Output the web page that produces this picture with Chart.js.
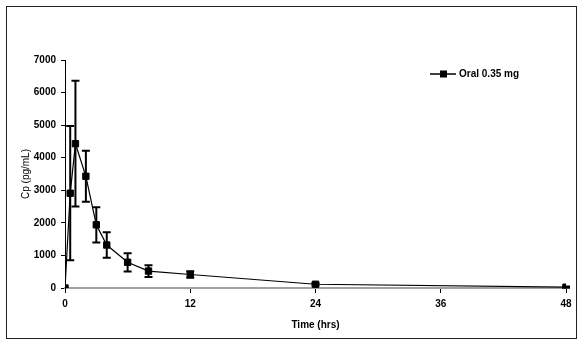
<!DOCTYPE html>
<html>
<head>
<meta charset="utf-8">
<script src="https://cdn.jsdelivr.net/npm/chart.js@4.4.1/dist/chart.umd.min.js"></script>
<style>
  html, body { margin: 0; padding: 0; background: #fff; }
  #wrap { width: 581px; height: 342px; position: relative; }
</style>
</head>
<body>
<div id="wrap"><canvas id="c" width="581" height="342"></canvas></div>
<script>
const seriesLabel = 'Oral 0.35 mg';
const times = [0, 0.5, 1, 2, 3, 4, 6, 8, 12, 24, 48];
const means = [0, 2910, 4430, 3430, 1940, 1320, 790, 520, 415, 115, 25];
const sds   = [0, 2060, 1930, 780, 540, 390, 280, 180, 100, 40, 20];
const xTicks = [0, 12, 24, 36, 48];
const yTicks = [0, 1000, 2000, 3000, 4000, 5000, 6000, 7000];
const xTitle = 'Time (hrs)';
const yTitle = 'Cp (pg/mL)';

const FONT = "'Liberation Sans', Arial, sans-serif";

const frame = {
  id: 'frame',
  beforeDraw(chart) {
    const ctx = chart.ctx;
    ctx.save();
    ctx.fillStyle = '#fff';
    ctx.fillRect(0, 0, chart.width, chart.height);
    ctx.strokeStyle = '#222';
    ctx.lineWidth = 1;
    ctx.strokeRect(6.5, 6.5, 570, 332);
    ctx.restore();
  }
};

const errorBars = {
  id: 'errorBars',
  afterDatasetsDraw(chart) {
    const ctx = chart.ctx, xs = chart.scales.x, ys = chart.scales.y;
    ctx.save();
    ctx.strokeStyle = '#000';
    ctx.lineWidth = 2;
    for (let i = 0; i < times.length; i++) {
      if (!sds[i]) continue;
      const x = xs.getPixelForValue(times[i]);
      const yT = ys.getPixelForValue(means[i] + sds[i]);
      const yB = ys.getPixelForValue(Math.max(0, means[i] - sds[i]));
      ctx.beginPath();
      ctx.moveTo(x, yT); ctx.lineTo(x, yB);
      ctx.moveTo(x - 4, yT); ctx.lineTo(x + 4, yT);
      ctx.moveTo(x - 4, yB); ctx.lineTo(x + 4, yB);
      ctx.stroke();
    }
    ctx.restore();
  }
};

const legendBox = {
  id: 'legendBox',
  afterDraw(chart) {
    const ctx = chart.ctx;
    const y = 74;
    ctx.save();
    ctx.strokeStyle = '#000';
    ctx.lineWidth = 1.5;
    ctx.beginPath(); ctx.moveTo(430, y); ctx.lineTo(456, y); ctx.stroke();
    ctx.fillStyle = '#000';
    ctx.fillRect(440, y - 3.5, 7, 7);
    ctx.font = 'bold 10px ' + FONT;
    ctx.textBaseline = 'middle';
    ctx.textAlign = 'left';
    ctx.fillText(chart.data.datasets[0].label, 459, y);
    ctx.restore();
  }
};

new Chart(document.getElementById('c'), {
  type: 'line',
  data: {
    datasets: [{
      label: seriesLabel,
      data: times.map((t, i) => ({ x: t, y: means[i] })),
      borderColor: '#000',
      borderWidth: 1.2,
      backgroundColor: '#000',
      pointStyle: 'rect',
      pointRadius: 4.5,
      pointBorderWidth: 1,
      pointBorderColor: '#000',
      pointBackgroundColor: '#000',
      tension: 0,
      fill: false
    }]
  },
  options: {
    responsive: false,
    animation: false,
    devicePixelRatio: 1,
    layout: { padding: { left: 0, top: 60, right: 15, bottom: 0 } },
    plugins: { legend: { display: false }, tooltip: { enabled: false } },
    scales: {
      x: {
        type: 'linear', min: 0, max: 48,
        afterFit(s) { s.height = 54; },
        afterBuildTicks(s) { s.ticks = xTicks.map(v => ({ value: v })); },
        border: { display: true, color: '#a0a0a0', width: 2 },
        grid: { display: true, drawOnChartArea: false, drawTicks: true, tickLength: 5, color: '#000', lineWidth: 1 },
        ticks: { color: '#000', font: { family: FONT, size: 10, weight: 'bold' }, padding: 5, maxRotation: 0, callback: v => String(v) },
        title: { display: true, text: xTitle, color: '#000', font: { family: FONT, size: 10, weight: 'bold' }, padding: { top: 0, bottom: 11 } }
      },
      y: {
        type: 'linear', min: 0, max: 7000,
        afterFit(s) { s.width = 65; },
        afterBuildTicks(s) { s.ticks = yTicks.map(v => ({ value: v })); },
        border: { display: true, color: '#000', width: 1 },
        grid: { display: true, drawOnChartArea: false, drawTicks: true, tickLength: 4, color: '#000', lineWidth: 1 },
        ticks: { color: '#000', font: { family: FONT, size: 10, weight: 'bold' }, padding: 5, callback: v => String(v) },
        title: { display: true, text: yTitle, color: '#000', font: { family: FONT, size: 10 }, padding: { top: 20, bottom: 0 } }
      }
    }
  },
  plugins: [frame, errorBars, legendBox]
});
</script>
</body>
</html>
